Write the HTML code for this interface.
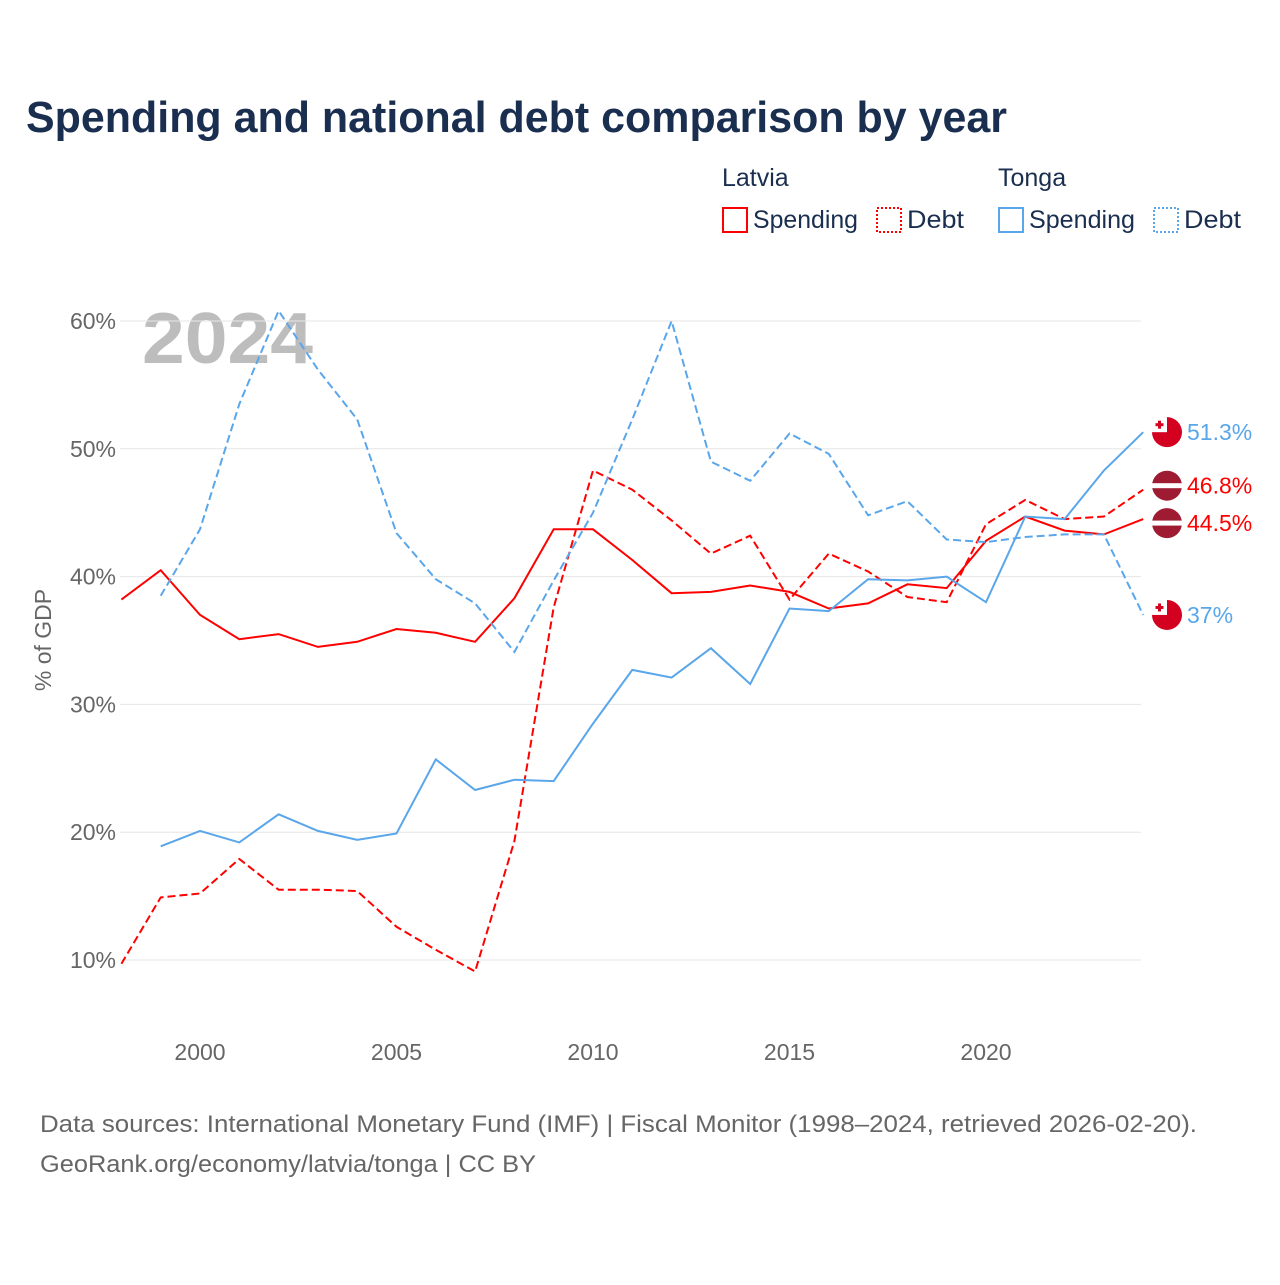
<!DOCTYPE html>
<html><head><meta charset="utf-8"><style>
body{margin:0;background:#fff;width:1280px;height:1280px;overflow:hidden;font-family:"Liberation Sans",sans-serif}
</style></head><body>
<svg id="c" width="1280" height="1280" xmlns="http://www.w3.org/2000/svg">
<text x="26" y="132" font-size="44" font-weight="bold" fill="#1a2e4f" textLength="981" lengthAdjust="spacingAndGlyphs">Spending and national debt comparison by year</text>
<g font-size="25" fill="#1a2e4f">
<text x="722" y="186">Latvia</text>
<text x="998" y="186">Tonga</text>
<g><rect x="723" y="208" width="24" height="24" fill="none" stroke="#f00" stroke-width="2"/><text x="753" y="228" textLength="105" lengthAdjust="spacingAndGlyphs">Spending</text></g>
<g><rect x="877" y="208" width="24" height="24" fill="none" stroke="#f00" stroke-width="2" stroke-dasharray="2,2"/><text x="907" y="228" textLength="57" lengthAdjust="spacingAndGlyphs">Debt</text></g>
<g><rect x="999" y="208" width="24" height="24" fill="none" stroke="#5aa6ea" stroke-width="2"/><text x="1029" y="228" textLength="106" lengthAdjust="spacingAndGlyphs">Spending</text></g>
<g><rect x="1154" y="208" width="24" height="24" fill="none" stroke="#5aa6ea" stroke-width="2" stroke-dasharray="2,2"/><text x="1184" y="228" textLength="57" lengthAdjust="spacingAndGlyphs">Debt</text></g>
</g>
<text x="142" y="363" font-size="72" font-weight="bold" fill="#bdbdbd" textLength="171" lengthAdjust="spacingAndGlyphs">2024</text>
<g id="grid"></g><g id="lines"></g><g id="labels"></g>
<text transform="translate(51,640) rotate(-90)" text-anchor="middle" font-size="23" fill="#666">% of GDP</text>
<text x="40" y="1132" font-size="24" fill="#666" textLength="1157" lengthAdjust="spacingAndGlyphs">Data sources: International Monetary Fund (IMF) | Fiscal Monitor (1998–2024, retrieved 2026-02-20).</text>
<text x="40" y="1172" font-size="24" fill="#666" textLength="496" lengthAdjust="spacingAndGlyphs">GeoRank.org/economy/latvia/tonga | CC BY</text>
</svg>
<script>
const years=[1998,1999,2000,2001,2002,2003,2004,2005,2006,2007,2008,2009,2010,2011,2012,2013,2014,2015,2016,2017,2018,2019,2020,2021,2022,2023,2024];
const latviaSpending=[38.2,40.5,37.0,35.1,35.5,34.5,34.9,35.9,35.6,34.9,38.3,43.7,43.7,41.3,38.7,38.8,39.3,38.8,37.5,37.9,39.4,39.1,42.8,44.7,43.6,43.3,44.5];
const latviaDebt=[9.7,14.9,15.2,17.9,15.5,15.5,15.4,12.6,10.8,9.1,19.3,37.6,48.3,46.8,44.4,41.8,43.2,38.2,41.8,40.4,38.4,38.0,44.1,46.0,44.5,44.7,46.8];
const tongaSpending=[null,18.9,20.1,19.2,21.4,20.1,19.4,19.9,25.7,23.3,24.1,24.0,28.5,32.7,32.1,34.4,31.6,37.5,37.3,39.8,39.7,40.0,38.0,44.7,44.5,48.3,51.3];
const tongaDebt=[null,38.5,43.7,53.5,60.8,56.2,52.3,43.4,39.8,37.9,34.1,39.7,45.0,52.3,60.0,49.0,47.5,51.2,49.6,44.8,45.9,42.9,42.7,43.1,43.3,43.3,37.0];
const yTicks=[10,20,30,40,50,60];
const xTicks=[2000,2005,2010,2015,2020];
const X=y=>121.4+(y-1998)*39.3;
const Y=v=>960-(v-10)*12.78;
const NS="http://www.w3.org/2000/svg";
function mk(t,a,p){const e=document.createElementNS(NS,t);for(const k in a)e.setAttribute(k,a[k]);p.appendChild(e);return e;}
const grid=document.getElementById('grid'),lines=document.getElementById('lines'),labels=document.getElementById('labels');
yTicks.forEach(v=>{
 const l=mk('line',{x1:120,x2:1141,y1:Y(v),y2:Y(v),stroke:'#e6e6e6','stroke-width':1},grid);
 
 
 const t=mk('text',{x:116,y:Y(v)+8,'text-anchor':'end','font-size':23,fill:'#666'},grid);
 t.textContent=v+'%';
 
 
});
xTicks.forEach(v=>{
 const t=mk('text',{x:X(v),y:1060,'text-anchor':'middle','font-size':23,fill:'#666'},grid);
 t.textContent=v;
 
 
});
const series=[
 [latviaSpending,'#f00',null,'latvia-spending-line'],
 [latviaDebt,'#f00','8,4','latvia-debt-line'],
 [tongaSpending,'#5aa6ea',null,'tonga-spending-line'],
 [tongaDebt,'#5aa6ea','8,4','tonga-debt-line']];
series.forEach(s=>{
 let d='';s[0].forEach((v,i)=>{if(v==null)return;d+=(d?'L':'M')+X(years[i]).toFixed(1)+','+Y(v).toFixed(1);});
 const a={d:d,fill:'none',stroke:s[1],'stroke-width':2};if(s[2])a['stroke-dasharray']=s[2];
 const p=mk('path',a,lines);
 
 
});
const ends=[[tongaSpending,'#5aa6ea','tonga',0],[latviaDebt,'#f00','latvia',-4],[latviaSpending,'#f00','latvia',4],[tongaDebt,'#5aa6ea','tonga',0]];
ends.forEach(e=>{
 const v=e[0][e[0].length-1];const cy=Y(v)+e[3];const cx=1167;
 const g=mk('g',{},labels);
 
 
 if(e[2]=='latvia'){
  mk('circle',{cx:cx,cy:cy,r:15,fill:'#9e1b32'},g);
  mk('rect',{x:cx-15,y:cy-2.5,width:30,height:5,fill:'#fff'},g);
 }else{
  mk('circle',{cx:cx,cy:cy,r:15,fill:'#d40020'},g);
  mk('rect',{x:cx-15,y:cy-15,width:15,height:15,fill:'#fff'},g);
  mk('rect',{x:cx-9,y:cy-11.5,width:3,height:8,fill:'#d40020'},g);
  mk('rect',{x:cx-11.5,y:cy-9,width:8,height:3,fill:'#d40020'},g);
 }
 const t=mk('text',{x:1187,y:cy+8,'font-size':23,fill:e[1]},g);
 t.textContent=(Math.round(v*10)/10)+'%';
});
</script>
</body></html>
